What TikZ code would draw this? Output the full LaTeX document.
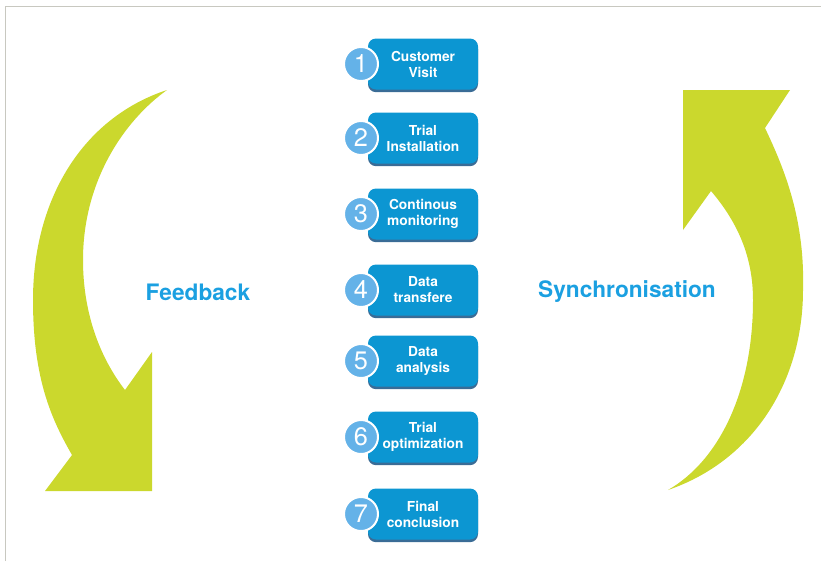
\documentclass[tikz,border=0pt]{standalone}
\usepackage{fontspec}
\setmainfont{TeX Gyre Heros}
\usetikzlibrary{shadows}

\definecolor{stepblue}{RGB}{12,150,210}
\definecolor{stepshade}{RGB}{58,108,150}
\definecolor{numblue}{RGB}{100,178,232}
\definecolor{loopgreen}{RGB}{203,216,45}
\definecolor{loopblue}{RGB}{27,160,225}
\definecolor{frame}{RGB}{200,200,192}

\tikzset{
    stepbox/.style={rectangle,rounded corners=6pt,fill=stepblue,
        minimum width=82.5pt,minimum height=38.25pt,inner sep=1pt,
        text=white,align=center,
        font=\fontsize{10.3}{12}\selectfont\bfseries,
        general shadow={fill=stepshade,shadow yshift=-2pt}},
    stepnum/.style={circle,fill=numblue,draw=white,line width=1.5pt,
        minimum size=25.5pt,inner sep=0pt,text=white,
        font=\fontsize{19}{19}\selectfont},
    looplabel/.style={text=loopblue,font=\fontsize{17}{19}\selectfont\bfseries}
}

\begin{document}
\begin{tikzpicture}[x=0.75pt,y=-0.75pt]
    \useasboundingbox(0,0)rectangle(821,561);
    \draw[frame,line width=1.1pt](5.5,561)--(5.5,6.5)--(821,6.5);

    % the two curved arrows
    \fill[loopgreen](167,90)..controls(82,118)and(33,200)..(33,300)
        ..controls(33,380)and(52,420)..(72,455)--(45,491)--(152,491)
        --(152,352)--(125,390)..controls(98,355)and(83,310)..(83,260)
        ..controls(83,180)and(125,120)..(167,90)--cycle;
    \fill[loopgreen](668,490)..controls(755,460)and(803,380)..(803,290)
        ..controls(805,220)and(785,170)..(765,128)--(790,90)--(683,90)
        --(683,230)--(711,191)..controls(740,225)and(753,260)..(753,300)
        ..controls(753,390)and(720,460)..(668,490)--cycle;

    \node[looplabel](feedback)at(198,292){Feedback};
    \node[looplabel](sync)at(627,292){Synchronisation};

    % steps
    \node[stepbox](box1)at(423,64){Customer\\Visit};
    \node[stepbox](box2)at(423,138){Trial\\Installation};
    \node[stepbox](box3)at(423,214){Continous\\monitoring};
    \node[stepbox](box4)at(423,290){Data\\transfere};
    \node[stepbox](box5)at(423,361){Data\\analysis};
    \node[stepbox](box6)at(423,437){Trial\\optimization};
    \node[stepbox](box7)at(423,514){Final\\conclusion};

    \node[stepnum](num1)at(361,64){1};
    \node[stepnum](num2)at(361,138){2};
    \node[stepnum](num3)at(361,214){3};
    \node[stepnum](num4)at(361,290){4};
    \node[stepnum](num5)at(361,361){5};
    \node[stepnum](num6)at(361,437){6};
    \node[stepnum](num7)at(361,514){7};
\end{tikzpicture}
\end{document}
